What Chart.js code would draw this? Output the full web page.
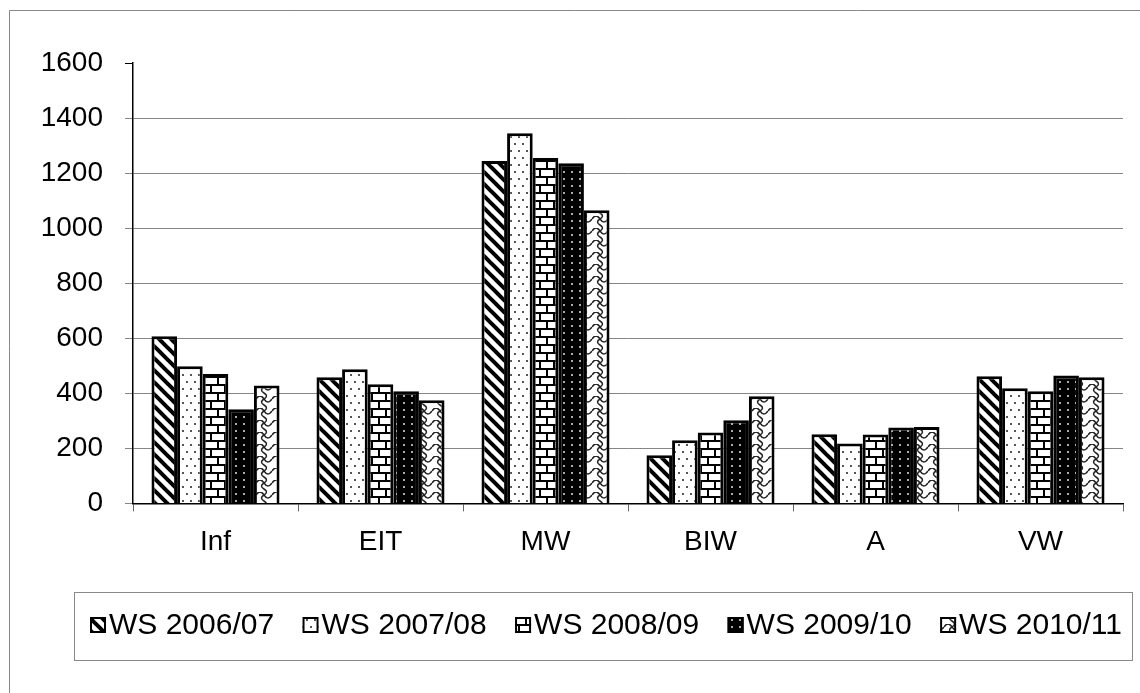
<!DOCTYPE html>
<html lang="de">
<head>
<meta charset="UTF-8">
<title>Studierende je Fachbereich, WS 2006/07 bis WS 2010/11</title>
<script src="https://cdn.jsdelivr.net/npm/chart.js"></script>
<style>
    body {
        margin: 0;
        background: #fff;
    }
    #wrap {
        width: 1140px;
        height: 693px;
    }
</style>
</head>
<body>
<div id="wrap"><canvas id="chart" width="1140" height="693"></canvas></div>
<script>
// Daten
const categories = ['Inf', 'EIT', 'MW', 'BIW', 'A', 'VW'];
const seriesNames = ['WS 2006/07', 'WS 2007/08', 'WS 2008/09', 'WS 2009/10', 'WS 2010/11'];
const ws0607 = [607, 458, 1244, 175, 251, 462];
const ws0708 = [498, 487, 1345, 229, 218, 418];
const ws0809 = [470, 433, 1255, 258, 250, 407];
const ws0910 = [342, 407, 1236, 302, 276, 465];
const ws1011 = [428, 375, 1065, 389, 278, 458];
const yTicks = [0, 200, 400, 600, 800, 1000, 1200, 1400, 1600];

const FONT = "'Liberation Sans', Arial, sans-serif";

// Schraffuren wie im Excel-Diagramm
function makeTile(w, h, draw) {
    const c = document.createElement('canvas');
    c.width = w;
    c.height = h;
    const g = c.getContext('2d');
    draw(g);
    return document.createElement('canvas').getContext('2d').createPattern(c, 'repeat');
}

const patDiag = makeTile(12, 12, g => {
    g.fillStyle = '#fff';
    g.fillRect(0, 0, 12, 12);
    g.strokeStyle = '#000';
    g.lineWidth = 4;
    for (const o of [-12, 0, 12]) {
        g.beginPath();
        g.moveTo(o - 2, -2);
        g.lineTo(o + 14, 14);
        g.stroke();
    }
});

const patDots = makeTile(8, 14, g => {
    g.fillStyle = '#fff';
    g.fillRect(0, 0, 8, 14);
    g.fillStyle = '#555';
    g.fillRect(2, 3, 2, 2);
    g.fillRect(6, 10, 2, 2);
});

const patBrick = makeTile(14, 16, g => {
    g.fillStyle = '#fff';
    g.fillRect(0, 0, 14, 16);
    g.fillStyle = '#000';
    g.fillRect(0, 0, 14, 2);
    g.fillRect(0, 8, 14, 2);
    g.fillRect(0, 0, 2, 8);
    g.fillRect(7, 8, 2, 8);
});

const patDark = makeTile(8, 7, g => {
    g.fillStyle = '#000';
    g.fillRect(0, 0, 8, 7);
    g.fillStyle = '#aaa';
    g.fillRect(3, 3, 2, 2);
});

// Wellen mit S-Verbindungen
const patWave = makeTile(16, 12, g => {
    g.fillStyle = '#fff';
    g.fillRect(0, 0, 16, 12);
    g.strokeStyle = '#222';
    g.lineWidth = 1.5;
    g.beginPath();
    g.moveTo(0, 3);
    g.quadraticCurveTo(4, -3, 8, 3);
    g.quadraticCurveTo(12, 9, 16, 3);
    g.moveTo(8, 3);
    g.quadraticCurveTo(3, 6, 8, 9);
    g.quadraticCurveTo(13, 12, 8, 15);
    g.moveTo(8, -3);
    g.quadraticCurveTo(13, 0, 8, 3);
    g.stroke();
});

const patterns = [patDiag, patDots, patBrick, patDark, patWave];
const seriesValues = [ws0607, ws0708, ws0809, ws0910, ws1011];

// Rahmen um Diagramm und Legende, Legende selbst gezeichnet
const framePlugin = {
    id: 'frame',
    afterDraw(chart) {
        const ctx = chart.ctx;
        ctx.save();
        ctx.strokeStyle = '#888';
        ctx.lineWidth = 1;
        ctx.beginPath();
        ctx.moveTo(9.5, 693);
        ctx.lineTo(9.5, 10.5);
        ctx.lineTo(1140, 10.5);
        ctx.stroke();

        // Legendenkasten
        const box = { left: 74.5, top: 592.5, right: 1132.5, bottom: 660.5 };
        ctx.strokeRect(box.left, box.top, box.right - box.left, box.bottom - box.top);

        ctx.font = '30px ' + FONT;
        ctx.textBaseline = 'middle';
        const iconW = 16, gap = 3;
        const items = chart.data.datasets.map(ds => ({
            label: ds.label,
            fill: ds.backgroundColor,
            w: iconW + gap + ctx.measureText(ds.label).width
        }));
        const startX = 90, endX = 1122;
        const total = items.reduce((s, it) => s + it.w, 0);
        const space = (endX - startX - total) / (items.length - 1);
        const cy = 625;
        let x = startX;
        items.forEach(it => {
            ctx.fillStyle = it.fill;
            ctx.fillRect(x, cy - 8, iconW, iconW);
            ctx.strokeStyle = '#000';
            ctx.lineWidth = 2;
            ctx.strokeRect(x + 1, cy - 7, iconW - 2, iconW - 2);
            ctx.fillStyle = '#000';
            ctx.fillText(it.label, x + iconW + gap, cy + 1);
            x += it.w + space;
        });
        ctx.restore();
    }
};

const ctx = document.getElementById('chart').getContext('2d');
new Chart(ctx, {
    type: 'bar',
    data: {
        labels: categories,
        datasets: seriesNames.map((name, i) => ({
            label: name,
            data: seriesValues[i],
            backgroundColor: patterns[i],
            borderColor: '#000',
            borderWidth: 3,
            categoryPercentage: 0.776,
            barPercentage: 1
        }))
    },
    options: {
        responsive: false,
        animation: false,
        layout: { padding: { left: 0, right: 17, top: 63, bottom: 120 } },
        plugins: {
            legend: { display: false },
            tooltip: { enabled: false }
        },
        scales: {
            x: {
                grid: {
                    offset: true,
                    drawOnChartArea: false,
                    drawTicks: true,
                    tickLength: 8,
                    color: '#666'
                },
                border: { color: '#000', width: 1.5 },
                ticks: {
                    color: '#000',
                    padding: 14,
                    font: { family: FONT, size: 28 }
                }
            },
            y: {
                min: 0,
                max: 1600,
                afterBuildTicks: s => { s.ticks = yTicks.map(v => ({ value: v })); },
                afterFit: s => { s.width = 133; },
                grid: {
                    color: c => (c.tick && c.tick.value === 1600) ? 'rgba(0,0,0,0)' : '#868686',
                    tickColor: c => (c.tick && c.tick.value === 1600) ? '#000' : '#868686',
                    tickLength: 8,
                    lineWidth: 1
                },
                border: { color: '#000', width: 1.5 },
                ticks: {
                    color: '#000',
                    padding: 22,
                    font: { family: FONT, size: 28 },
                    callback: v => String(v)
                }
            }
        }
    },
    plugins: [framePlugin]
});
</script>
</body>
</html>
